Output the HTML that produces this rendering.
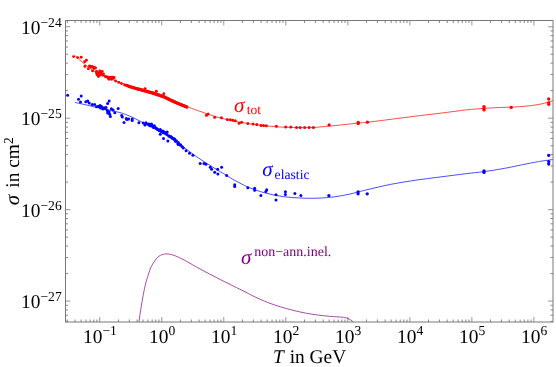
<!DOCTYPE html>
<html><head><meta charset="utf-8"><title>cross sections</title>
<style>
html,body{margin:0;padding:0;background:#fff;}
body{width:556px;height:367px;overflow:hidden;font-family:"Liberation Serif",serif;}
svg{display:block;will-change:transform;} text{text-rendering:geometricPrecision;}
</style></head><body>
<svg width="556" height="367" viewBox="0 0 556 367">
<rect x="0" y="0" width="556" height="367" fill="#fff"/>
<defs><clipPath id="c"><rect x="65.5" y="20.5" width="487.5" height="301.5"/></clipPath></defs>
<path d="M67.32 322.00v-2.50M67.32 20.50v2.50M75.07 322.00v-2.50M75.07 20.50v2.50M81.08 322.00v-2.50M81.08 20.50v2.50M85.99 322.00v-2.50M85.99 20.50v2.50M90.14 322.00v-2.50M90.14 20.50v2.50M93.74 322.00v-2.50M93.74 20.50v2.50M96.91 322.00v-2.50M96.91 20.50v2.50M118.42 322.00v-2.50M118.42 20.50v2.50M129.34 322.00v-2.50M129.34 20.50v2.50M137.09 322.00v-2.50M137.09 20.50v2.50M143.10 322.00v-2.50M143.10 20.50v2.50M148.01 322.00v-2.50M148.01 20.50v2.50M152.16 322.00v-2.50M152.16 20.50v2.50M155.76 322.00v-2.50M155.76 20.50v2.50M158.93 322.00v-2.50M158.93 20.50v2.50M180.44 322.00v-2.50M180.44 20.50v2.50M191.36 322.00v-2.50M191.36 20.50v2.50M199.11 322.00v-2.50M199.11 20.50v2.50M205.12 322.00v-2.50M205.12 20.50v2.50M210.03 322.00v-2.50M210.03 20.50v2.50M214.18 322.00v-2.50M214.18 20.50v2.50M217.78 322.00v-2.50M217.78 20.50v2.50M220.95 322.00v-2.50M220.95 20.50v2.50M242.46 322.00v-2.50M242.46 20.50v2.50M253.38 322.00v-2.50M253.38 20.50v2.50M261.13 322.00v-2.50M261.13 20.50v2.50M267.14 322.00v-2.50M267.14 20.50v2.50M272.05 322.00v-2.50M272.05 20.50v2.50M276.20 322.00v-2.50M276.20 20.50v2.50M279.80 322.00v-2.50M279.80 20.50v2.50M282.97 322.00v-2.50M282.97 20.50v2.50M304.48 322.00v-2.50M304.48 20.50v2.50M315.40 322.00v-2.50M315.40 20.50v2.50M323.15 322.00v-2.50M323.15 20.50v2.50M329.16 322.00v-2.50M329.16 20.50v2.50M334.07 322.00v-2.50M334.07 20.50v2.50M338.22 322.00v-2.50M338.22 20.50v2.50M341.82 322.00v-2.50M341.82 20.50v2.50M344.99 322.00v-2.50M344.99 20.50v2.50M366.50 322.00v-2.50M366.50 20.50v2.50M377.42 322.00v-2.50M377.42 20.50v2.50M385.17 322.00v-2.50M385.17 20.50v2.50M391.18 322.00v-2.50M391.18 20.50v2.50M396.09 322.00v-2.50M396.09 20.50v2.50M400.24 322.00v-2.50M400.24 20.50v2.50M403.84 322.00v-2.50M403.84 20.50v2.50M407.01 322.00v-2.50M407.01 20.50v2.50M428.52 322.00v-2.50M428.52 20.50v2.50M439.44 322.00v-2.50M439.44 20.50v2.50M447.19 322.00v-2.50M447.19 20.50v2.50M453.20 322.00v-2.50M453.20 20.50v2.50M458.11 322.00v-2.50M458.11 20.50v2.50M462.26 322.00v-2.50M462.26 20.50v2.50M465.86 322.00v-2.50M465.86 20.50v2.50M469.03 322.00v-2.50M469.03 20.50v2.50M490.54 322.00v-2.50M490.54 20.50v2.50M501.46 322.00v-2.50M501.46 20.50v2.50M509.21 322.00v-2.50M509.21 20.50v2.50M515.22 322.00v-2.50M515.22 20.50v2.50M520.13 322.00v-2.50M520.13 20.50v2.50M524.28 322.00v-2.50M524.28 20.50v2.50M527.88 322.00v-2.50M527.88 20.50v2.50M531.05 322.00v-2.50M531.05 20.50v2.50M65.50 321.39h2.50M553.00 321.39h-2.50M65.50 315.27h2.50M553.00 315.27h-2.50M65.50 309.96h2.50M553.00 309.96h-2.50M65.50 305.28h2.50M553.00 305.28h-2.50M65.50 273.57h2.50M553.00 273.57h-2.50M65.50 257.47h2.50M553.00 257.47h-2.50M65.50 246.04h2.50M553.00 246.04h-2.50M65.50 237.18h2.50M553.00 237.18h-2.50M65.50 229.94h2.50M553.00 229.94h-2.50M65.50 223.82h2.50M553.00 223.82h-2.50M65.50 218.51h2.50M553.00 218.51h-2.50M65.50 213.83h2.50M553.00 213.83h-2.50M65.50 182.12h2.50M553.00 182.12h-2.50M65.50 166.02h2.50M553.00 166.02h-2.50M65.50 154.59h2.50M553.00 154.59h-2.50M65.50 145.73h2.50M553.00 145.73h-2.50M65.50 138.49h2.50M553.00 138.49h-2.50M65.50 132.37h2.50M553.00 132.37h-2.50M65.50 127.06h2.50M553.00 127.06h-2.50M65.50 122.38h2.50M553.00 122.38h-2.50M65.50 90.67h2.50M553.00 90.67h-2.50M65.50 74.57h2.50M553.00 74.57h-2.50M65.50 63.14h2.50M553.00 63.14h-2.50M65.50 54.28h2.50M553.00 54.28h-2.50M65.50 47.04h2.50M553.00 47.04h-2.50M65.50 40.92h2.50M553.00 40.92h-2.50M65.50 35.61h2.50M553.00 35.61h-2.50M65.50 30.93h2.50M553.00 30.93h-2.50" stroke="#707070" stroke-width="0.85" fill="none"/>
<path d="M99.75 322.00v-4.90M99.75 20.50v4.90M161.77 322.00v-4.90M161.77 20.50v4.90M223.79 322.00v-4.90M223.79 20.50v4.90M285.81 322.00v-4.90M285.81 20.50v4.90M347.83 322.00v-4.90M347.83 20.50v4.90M409.85 322.00v-4.90M409.85 20.50v4.90M471.87 322.00v-4.90M471.87 20.50v4.90M533.89 322.00v-4.90M533.89 20.50v4.90M65.50 301.10h4.90M553.00 301.10h-4.90M65.50 209.65h4.90M553.00 209.65h-4.90M65.50 118.20h4.90M553.00 118.20h-4.90M65.50 26.75h4.90M553.00 26.75h-4.90" stroke="#787878" stroke-width="0.8" fill="none"/>
<g clip-path="url(#c)">
<path d="M138.90 322.00C139.12 320.52 139.78 315.85 140.20 313.10C140.62 310.35 140.98 308.02 141.40 305.50C141.82 302.98 142.28 300.33 142.70 298.00C143.12 295.67 143.48 293.60 143.90 291.50C144.32 289.40 144.78 287.18 145.20 285.40C145.62 283.62 145.98 282.27 146.40 280.80C146.82 279.33 147.07 278.57 147.70 276.60C148.33 274.63 149.37 271.10 150.20 269.00C151.03 266.90 151.85 265.47 152.70 264.00C153.55 262.53 154.45 261.33 155.30 260.20C156.15 259.07 156.97 258.00 157.80 257.20C158.63 256.40 159.47 255.87 160.30 255.40C161.13 254.93 161.75 254.65 162.80 254.40C163.85 254.15 165.33 253.90 166.60 253.90C167.87 253.90 168.93 254.07 170.40 254.40C171.87 254.73 173.30 255.07 175.40 255.90C177.50 256.73 179.63 257.63 183.00 259.40C186.37 261.17 191.40 264.18 195.60 266.50C199.80 268.82 204.00 271.08 208.20 273.30C212.40 275.52 216.60 277.67 220.80 279.80C225.00 281.93 229.22 284.03 233.40 286.10C237.58 288.17 242.27 290.38 245.90 292.20C249.53 294.02 251.55 295.28 255.20 297.00C258.85 298.72 263.60 300.87 267.80 302.50C272.00 304.13 276.20 305.50 280.40 306.80C284.60 308.10 288.80 309.25 293.00 310.30C297.20 311.35 301.40 312.30 305.60 313.10C309.80 313.90 314.00 314.55 318.20 315.10C322.40 315.65 327.03 316.07 330.80 316.40C334.57 316.73 338.43 316.90 340.80 317.10C343.17 317.30 343.88 317.40 345.00 317.60C346.12 317.80 346.52 317.88 347.50 318.30C348.48 318.72 349.92 319.48 350.90 320.10C351.88 320.72 352.98 321.68 353.40 322.00" stroke="#800080" stroke-width="0.7" fill="none"/>
<path d="M74.90 102.40C76.25 102.70 80.23 103.57 83.00 104.20C85.77 104.83 88.67 105.55 91.50 106.20C94.33 106.85 96.85 107.40 100.00 108.10C103.15 108.80 107.07 109.65 110.40 110.40C113.73 111.15 117.40 111.90 120.00 112.60C122.60 113.30 123.90 113.80 126.00 114.60C128.10 115.40 130.43 116.40 132.60 117.40C134.77 118.40 136.90 119.53 139.00 120.60C141.10 121.67 143.12 122.73 145.20 123.80C147.28 124.87 149.40 125.90 151.50 127.00C153.60 128.10 155.72 129.25 157.80 130.40C159.88 131.55 161.90 132.73 164.00 133.90C166.10 135.07 168.40 136.17 170.40 137.40C172.40 138.63 173.97 139.83 176.00 141.30C178.03 142.77 180.43 144.55 182.60 146.20C184.77 147.85 186.90 149.60 189.00 151.20C191.10 152.80 193.12 154.33 195.20 155.80C197.28 157.27 199.40 158.63 201.50 160.00C203.60 161.37 205.72 162.68 207.80 164.00C209.88 165.32 211.90 166.60 214.00 167.90C216.10 169.20 218.28 170.53 220.40 171.80C222.52 173.07 224.23 174.03 226.70 175.50C229.17 176.97 231.68 178.68 235.20 180.60C238.72 182.52 243.60 185.17 247.80 187.00C252.00 188.83 256.20 190.30 260.40 191.60C264.60 192.90 268.80 193.92 273.00 194.80C277.20 195.68 281.40 196.38 285.60 196.90C289.80 197.42 294.00 197.67 298.20 197.90C302.40 198.13 306.60 198.30 310.80 198.30C315.00 198.30 319.20 198.18 323.40 197.90C327.60 197.62 331.57 197.25 336.00 196.60C340.43 195.95 345.13 195.07 350.00 194.00C354.87 192.93 358.47 191.80 365.20 190.20C371.93 188.60 382.00 186.07 390.40 184.40C398.80 182.73 407.20 181.45 415.60 180.20C424.00 178.95 432.42 177.98 440.80 176.90C449.18 175.82 458.70 174.58 465.90 173.70C473.10 172.82 477.62 172.48 484.00 171.60C490.38 170.72 496.65 169.78 504.20 168.40C511.75 167.02 523.17 164.50 529.30 163.30C535.43 162.10 537.05 161.83 541.00 161.20C544.95 160.57 551.00 159.78 553.00 159.50" stroke="#0000ff" stroke-width="0.7" fill="none"/>
<path d="M75.10 55.70C75.92 56.45 78.32 58.72 80.00 60.20C81.68 61.68 83.53 63.25 85.20 64.60C86.87 65.95 88.37 67.13 90.00 68.30C91.63 69.47 93.33 70.62 95.00 71.60C96.67 72.58 98.33 73.40 100.00 74.20C101.67 75.00 103.27 75.67 105.00 76.40C106.73 77.13 108.57 77.85 110.40 78.60C112.23 79.35 113.90 80.07 116.00 80.90C118.10 81.73 120.67 82.72 123.00 83.60C125.33 84.48 127.67 85.42 130.00 86.20C132.33 86.98 134.48 87.60 137.00 88.30C139.52 89.00 142.60 89.72 145.10 90.40C147.60 91.08 149.85 91.75 152.00 92.40C154.15 93.05 156.00 93.63 158.00 94.30C160.00 94.97 162.00 95.57 164.00 96.40C166.00 97.23 168.00 98.35 170.00 99.30C172.00 100.25 174.00 101.22 176.00 102.10C178.00 102.98 180.00 103.78 182.00 104.60C184.00 105.42 185.83 106.17 188.00 107.00C190.17 107.83 193.00 108.88 195.00 109.60C197.00 110.32 198.10 110.63 200.00 111.30C201.90 111.97 203.87 112.73 206.40 113.60C208.93 114.47 211.63 115.47 215.20 116.50C218.77 117.53 223.60 118.83 227.80 119.80C232.00 120.77 236.20 121.55 240.40 122.30C244.60 123.05 248.80 123.72 253.00 124.30C257.20 124.88 261.40 125.37 265.60 125.80C269.80 126.23 274.00 126.63 278.20 126.90C282.40 127.17 286.60 127.28 290.80 127.40C295.00 127.52 299.20 127.62 303.40 127.60C307.60 127.58 311.57 127.57 316.00 127.30C320.43 127.03 325.13 126.47 330.00 126.00C334.87 125.53 340.53 124.98 345.20 124.50C349.87 124.02 353.80 123.53 358.00 123.10C362.20 122.67 364.13 122.63 370.40 121.90C376.67 121.17 387.20 119.77 395.60 118.70C404.00 117.63 413.20 116.43 420.80 115.50C428.40 114.57 433.60 114.03 441.20 113.10C448.80 112.17 459.27 110.68 466.40 109.90C473.53 109.12 478.73 108.78 484.00 108.40C489.27 108.02 493.38 107.82 498.00 107.60C502.62 107.38 507.70 107.28 511.70 107.10C515.70 106.92 519.07 106.72 522.00 106.50C524.93 106.28 526.97 106.07 529.30 105.80C531.63 105.53 533.90 105.23 536.00 104.90C538.10 104.57 539.90 104.25 541.90 103.80C543.90 103.35 546.15 102.75 548.00 102.20C549.85 101.65 552.17 100.78 553.00 100.50" stroke="#ff0000" stroke-width="0.7" fill="none"/>
</g>
<g fill="#0000ff"><circle cx="67.6" cy="95.2" r="1.50"/><circle cx="81.2" cy="96.1" r="1.50"/><circle cx="78.5" cy="99.2" r="1.50"/><circle cx="80.5" cy="102.1" r="1.50"/><circle cx="85.8" cy="101.7" r="1.50"/><circle cx="87.7" cy="100.9" r="1.50"/><circle cx="89.2" cy="103.0" r="1.50"/><circle cx="92.1" cy="104.6" r="1.50"/><circle cx="94.6" cy="104.6" r="1.50"/><circle cx="96.5" cy="106.8" r="1.50"/><circle cx="98.4" cy="106.2" r="1.50"/><circle cx="100.1" cy="105.5" r="1.50"/><circle cx="100.6" cy="108.0" r="1.50"/><circle cx="102.8" cy="108.9" r="1.50"/><circle cx="104.1" cy="107.7" r="1.50"/><circle cx="106.0" cy="107.4" r="1.50"/><circle cx="107.2" cy="110.6" r="1.50"/><circle cx="107.6" cy="113.1" r="1.50"/><circle cx="109.1" cy="111.8" r="1.50"/><circle cx="109.7" cy="114.3" r="1.50"/><circle cx="110.4" cy="116.6" r="1.50"/><circle cx="107.6" cy="103.6" r="1.50"/><circle cx="109.1" cy="100.9" r="1.50"/><circle cx="111.4" cy="108.7" r="1.50"/><circle cx="113.1" cy="109.9" r="1.50"/><circle cx="114.8" cy="112.7" r="1.50"/><circle cx="118.2" cy="108.4" r="1.50"/><circle cx="121.7" cy="115.6" r="1.50"/><circle cx="122.3" cy="116.9" r="1.50"/><circle cx="124.0" cy="122.5" r="1.50"/><circle cx="126.8" cy="119.4" r="1.50"/><circle cx="128.6" cy="119.0" r="1.50"/><circle cx="126.3" cy="118.6" r="1.50"/><circle cx="132.2" cy="118.9" r="1.50"/><circle cx="132.2" cy="120.4" r="1.50"/><circle cx="138.9" cy="122.7" r="1.50"/><circle cx="143.3" cy="123.0" r="1.50"/><circle cx="144.9" cy="124.9" r="1.50"/><circle cx="149.0" cy="123.9" r="1.50"/><circle cx="151.5" cy="123.9" r="1.50"/><circle cx="152.5" cy="125.8" r="1.50"/><circle cx="154.3" cy="125.8" r="1.50"/><circle cx="155.3" cy="127.7" r="1.50"/><circle cx="157.2" cy="129.0" r="1.50"/><circle cx="160.3" cy="129.6" r="1.50"/><circle cx="162.8" cy="130.9" r="1.50"/><circle cx="167.2" cy="132.1" r="1.50"/><circle cx="160.3" cy="134.3" r="1.50"/><circle cx="163.5" cy="138.4" r="1.50"/><circle cx="167.9" cy="140.9" r="1.50"/><circle cx="169.1" cy="135.9" r="1.50"/><circle cx="171.6" cy="137.2" r="1.50"/><circle cx="174.2" cy="139.0" r="1.50"/><circle cx="175.4" cy="140.9" r="1.50"/><circle cx="177.9" cy="143.5" r="1.50"/><circle cx="180.5" cy="144.7" r="1.50"/><circle cx="150.2" cy="125.0" r="1.50"/><circle cx="153.4" cy="127.0" r="1.50"/><circle cx="156.4" cy="128.4" r="1.50"/><circle cx="158.8" cy="129.9" r="1.50"/><circle cx="161.6" cy="131.2" r="1.50"/><circle cx="164.4" cy="132.0" r="1.50"/><circle cx="165.8" cy="133.2" r="1.50"/><circle cx="170.6" cy="136.9" r="1.50"/><circle cx="172.5" cy="138.2" r="1.50"/><circle cx="174.4" cy="139.4" r="1.50"/><circle cx="175.7" cy="141.3" r="1.50"/><circle cx="178.2" cy="144.5" r="1.50"/><circle cx="180.1" cy="145.1" r="1.50"/><circle cx="182.0" cy="146.4" r="1.50"/><circle cx="183.2" cy="147.9" r="1.50"/><circle cx="186.1" cy="150.8" r="1.50"/><circle cx="189.5" cy="153.3" r="1.50"/><circle cx="192.9" cy="155.2" r="1.50"/><circle cx="200.2" cy="163.4" r="1.50"/><circle cx="204.0" cy="163.4" r="1.50"/><circle cx="205.9" cy="164.3" r="1.50"/><circle cx="210.3" cy="167.2" r="1.50"/><circle cx="211.6" cy="169.3" r="1.50"/><circle cx="214.7" cy="172.2" r="1.50"/><circle cx="217.9" cy="174.1" r="1.50"/><circle cx="217.6" cy="169.3" r="1.50"/><circle cx="221.6" cy="167.2" r="1.50"/><circle cx="226.7" cy="175.6" r="1.50"/><circle cx="234.7" cy="184.8" r="1.50"/><circle cx="234.7" cy="186.5" r="1.50"/><circle cx="247.8" cy="187.8" r="1.50"/><circle cx="254.6" cy="188.3" r="1.50"/><circle cx="254.6" cy="190.3" r="1.50"/><circle cx="260.9" cy="195.6" r="1.50"/><circle cx="265.9" cy="191.6" r="1.50"/><circle cx="266.7" cy="189.8" r="1.50"/><circle cx="276.0" cy="194.8" r="1.50"/><circle cx="276.0" cy="199.9" r="1.50"/><circle cx="285.4" cy="191.8" r="1.50"/><circle cx="285.4" cy="194.6" r="1.50"/><circle cx="294.9" cy="193.6" r="1.50"/><circle cx="300.9" cy="195.6" r="1.50"/><circle cx="328.9" cy="195.6" r="1.65"/><circle cx="358.1" cy="191.8" r="1.65"/><circle cx="358.1" cy="193.8" r="1.65"/><circle cx="367.2" cy="193.8" r="1.65"/><circle cx="484.0" cy="170.9" r="1.65"/><circle cx="484.0" cy="172.4" r="1.65"/><circle cx="548.7" cy="155.3" r="1.65"/><circle cx="548.7" cy="161.6" r="1.65"/><circle cx="548.7" cy="164.1" r="1.65"/><circle cx="146.0" cy="122.8" r="1.50"/><circle cx="147.9" cy="124.3" r="1.50"/><circle cx="149.8" cy="125.7" r="1.50"/><circle cx="151.7" cy="126.0" r="1.50"/><circle cx="153.6" cy="127.5" r="1.50"/><circle cx="155.5" cy="127.8" r="1.50"/><circle cx="157.4" cy="129.3" r="1.50"/><circle cx="159.3" cy="130.8" r="1.50"/><circle cx="161.2" cy="131.2" r="1.50"/><circle cx="163.1" cy="132.7" r="1.50"/><circle cx="165.0" cy="133.0" r="1.50"/><circle cx="166.9" cy="134.6" r="1.50"/><circle cx="168.8" cy="136.1" r="1.50"/><circle cx="170.7" cy="136.5" r="1.50"/><circle cx="172.6" cy="138.3" r="1.50"/><circle cx="174.5" cy="138.9" r="1.50"/><circle cx="176.4" cy="140.7" r="1.50"/><circle cx="178.3" cy="142.6" r="1.50"/><circle cx="99.2" cy="106.8" r="1.50"/><circle cx="101.5" cy="106.6" r="1.50"/><circle cx="103.4" cy="108.2" r="1.50"/><circle cx="105.0" cy="108.6" r="1.50"/></g>
<g fill="#ff0000"><circle cx="73.6" cy="56.6" r="1.45"/><circle cx="77.6" cy="57.6" r="1.45"/><circle cx="81.2" cy="57.3" r="1.45"/><circle cx="86.4" cy="60.2" r="1.45"/><circle cx="84.6" cy="61.7" r="1.45"/><circle cx="84.9" cy="66.4" r="1.45"/><circle cx="88.3" cy="68.7" r="1.45"/><circle cx="90.2" cy="66.4" r="1.45"/><circle cx="93.4" cy="67.1" r="1.45"/><circle cx="94.6" cy="67.7" r="1.45"/><circle cx="92.5" cy="70.9" r="1.45"/><circle cx="96.5" cy="73.0" r="1.45"/><circle cx="99.7" cy="70.9" r="1.45"/><circle cx="102.2" cy="71.5" r="1.45"/><circle cx="98.4" cy="76.5" r="1.45"/><circle cx="100.3" cy="74.0" r="1.45"/><circle cx="102.8" cy="75.3" r="1.45"/><circle cx="105.3" cy="76.5" r="1.45"/><circle cx="108.5" cy="77.2" r="1.45"/><circle cx="111.6" cy="77.2" r="1.45"/><circle cx="114.2" cy="77.8" r="1.45"/><circle cx="111.6" cy="79.3" r="1.45"/><circle cx="115.6" cy="81.0" r="1.45"/><circle cx="118.8" cy="82.4" r="1.45"/><circle cx="121.5" cy="83.6" r="1.45"/><circle cx="124.6" cy="84.9" r="1.45"/><circle cx="145.1" cy="88.6" r="1.45"/><circle cx="156.4" cy="91.2" r="1.45"/><circle cx="163.8" cy="93.7" r="1.45"/><circle cx="206.4" cy="115.3" r="1.50"/><circle cx="208.1" cy="114.0" r="1.50"/><circle cx="214.7" cy="117.3" r="1.50"/><circle cx="221.5" cy="117.8" r="1.50"/><circle cx="227.3" cy="119.5" r="1.50"/><circle cx="230.3" cy="119.8" r="1.50"/><circle cx="232.8" cy="120.3" r="1.50"/><circle cx="235.3" cy="120.8" r="1.50"/><circle cx="239.1" cy="123.3" r="1.50"/><circle cx="241.6" cy="122.3" r="1.50"/><circle cx="247.9" cy="123.6" r="1.50"/><circle cx="253.0" cy="124.1" r="1.50"/><circle cx="256.8" cy="124.6" r="1.50"/><circle cx="261.0" cy="125.6" r="1.50"/><circle cx="263.6" cy="125.6" r="1.50"/><circle cx="266.3" cy="125.8" r="1.50"/><circle cx="276.4" cy="126.3" r="1.50"/><circle cx="285.7" cy="127.1" r="1.50"/><circle cx="290.8" cy="127.1" r="1.50"/><circle cx="296.5" cy="127.6" r="1.50"/><circle cx="300.1" cy="127.6" r="1.50"/><circle cx="304.6" cy="127.6" r="1.50"/><circle cx="309.1" cy="127.6" r="1.50"/><circle cx="313.4" cy="127.6" r="1.50"/><circle cx="329.1" cy="124.9" r="1.65"/><circle cx="358.3" cy="122.4" r="1.65"/><circle cx="358.3" cy="123.6" r="1.65"/><circle cx="367.4" cy="122.2" r="1.65"/><circle cx="484.0" cy="106.6" r="1.65"/><circle cx="484.0" cy="108.4" r="1.65"/><circle cx="484.0" cy="109.9" r="1.65"/><circle cx="511.2" cy="107.4" r="1.65"/><circle cx="548.7" cy="99.0" r="1.65"/><circle cx="548.7" cy="102.8" r="1.65"/><circle cx="548.7" cy="104.3" r="1.65"/><circle cx="96.5" cy="71.5" r="1.45"/><circle cx="97.8" cy="72.8" r="1.45"/><circle cx="99.0" cy="73.2" r="1.45"/><circle cx="100.9" cy="72.5" r="1.45"/><circle cx="101.5" cy="74.5" r="1.45"/><circle cx="99.5" cy="75.3" r="1.45"/><circle cx="103.5" cy="74.0" r="1.45"/><circle cx="97.0" cy="74.8" r="1.45"/><circle cx="106.5" cy="76.8" r="1.45"/><circle cx="107.8" cy="77.8" r="1.45"/><circle cx="109.5" cy="78.2" r="1.45"/><circle cx="110.5" cy="77.5" r="1.45"/><circle cx="112.5" cy="78.5" r="1.45"/><circle cx="113.3" cy="77.2" r="1.45"/><circle cx="109.0" cy="79.2" r="1.45"/><circle cx="89.5" cy="66.0" r="1.45"/><circle cx="91.0" cy="67.0" r="1.45"/><circle cx="92.0" cy="66.5" r="1.45"/><circle cx="93.8" cy="68.5" r="1.45"/><circle cx="95.5" cy="68.0" r="1.45"/><circle cx="126.0" cy="85.2" r="1.45"/><circle cx="126.8" cy="85.5" r="1.47"/><circle cx="127.6" cy="85.8" r="1.49"/><circle cx="128.4" cy="86.1" r="1.51"/><circle cx="129.2" cy="86.4" r="1.53"/><circle cx="130.0" cy="86.7" r="1.55"/><circle cx="130.8" cy="86.9" r="1.57"/><circle cx="131.6" cy="87.1" r="1.59"/><circle cx="132.4" cy="87.4" r="1.61"/><circle cx="133.2" cy="87.6" r="1.63"/><circle cx="134.0" cy="87.9" r="1.65"/><circle cx="134.8" cy="88.1" r="1.65"/><circle cx="135.6" cy="88.3" r="1.65"/><circle cx="136.4" cy="88.6" r="1.65"/><circle cx="137.2" cy="88.8" r="1.65"/><circle cx="138.0" cy="89.0" r="1.65"/><circle cx="138.8" cy="89.2" r="1.65"/><circle cx="139.6" cy="89.4" r="1.65"/><circle cx="140.4" cy="89.6" r="1.65"/><circle cx="141.2" cy="89.8" r="1.65"/><circle cx="142.0" cy="90.0" r="1.65"/><circle cx="142.8" cy="90.3" r="1.65"/><circle cx="143.6" cy="90.5" r="1.65"/><circle cx="144.4" cy="90.7" r="1.65"/><circle cx="145.2" cy="90.9" r="1.65"/><circle cx="146.0" cy="91.1" r="1.65"/><circle cx="146.8" cy="91.3" r="1.65"/><circle cx="147.6" cy="91.6" r="1.65"/><circle cx="148.4" cy="91.8" r="1.65"/><circle cx="149.2" cy="92.0" r="1.65"/><circle cx="150.0" cy="92.3" r="1.65"/><circle cx="150.8" cy="92.5" r="1.65"/><circle cx="151.6" cy="92.7" r="1.65"/><circle cx="152.4" cy="93.0" r="1.65"/><circle cx="153.2" cy="93.2" r="1.65"/><circle cx="154.0" cy="93.5" r="1.65"/><circle cx="154.8" cy="93.7" r="1.65"/><circle cx="155.6" cy="94.0" r="1.65"/><circle cx="156.4" cy="94.2" r="1.65"/><circle cx="157.2" cy="94.5" r="1.65"/><circle cx="158.0" cy="94.8" r="1.65"/><circle cx="158.8" cy="95.0" r="1.65"/><circle cx="159.6" cy="95.3" r="1.65"/><circle cx="160.4" cy="95.6" r="1.65"/><circle cx="161.2" cy="95.9" r="1.65"/><circle cx="162.0" cy="96.2" r="1.65"/><circle cx="162.8" cy="96.4" r="1.65"/><circle cx="163.6" cy="96.7" r="1.65"/><circle cx="164.4" cy="97.0" r="1.65"/><circle cx="165.2" cy="97.4" r="1.65"/><circle cx="166.0" cy="97.8" r="1.65"/><circle cx="166.8" cy="98.2" r="1.65"/><circle cx="167.6" cy="98.6" r="1.65"/><circle cx="168.4" cy="99.0" r="1.65"/><circle cx="169.2" cy="99.4" r="1.65"/><circle cx="170.0" cy="99.8" r="1.65"/><circle cx="170.8" cy="100.1" r="1.65"/><circle cx="171.6" cy="100.5" r="1.65"/><circle cx="172.4" cy="100.9" r="1.65"/><circle cx="173.2" cy="101.2" r="1.65"/><circle cx="174.0" cy="101.6" r="1.65"/><circle cx="174.8" cy="102.0" r="1.65"/><circle cx="175.6" cy="102.4" r="1.65"/><circle cx="176.4" cy="102.7" r="1.65"/><circle cx="177.2" cy="103.1" r="1.65"/><circle cx="178.0" cy="103.4" r="1.65"/><circle cx="178.8" cy="103.7" r="1.65"/><circle cx="179.6" cy="104.1" r="1.65"/><circle cx="180.4" cy="104.4" r="1.65"/><circle cx="181.2" cy="104.7" r="1.65"/><circle cx="182.0" cy="105.1" r="1.65"/><circle cx="182.8" cy="105.4" r="1.65"/><circle cx="183.6" cy="105.7" r="1.65"/><circle cx="184.4" cy="106.0" r="1.65"/><circle cx="185.2" cy="106.3" r="1.65"/><circle cx="186.0" cy="106.7" r="1.65"/><circle cx="186.8" cy="107.0" r="1.65"/></g>
<rect x="65.5" y="20.5" width="487.5" height="301.5" fill="none" stroke="#787878" stroke-width="1"/>
<g font-family="'Liberation Serif', serif" fill="#000" opacity="0.999">
<text x="61.7" y="33.8" font-size="19.4" text-anchor="end">10<tspan font-size="13.6" dy="-6.8">−24</tspan></text>
<text x="61.7" y="125.2" font-size="19.4" text-anchor="end">10<tspan font-size="13.6" dy="-6.8">−25</tspan></text>
<text x="61.7" y="216.7" font-size="19.4" text-anchor="end">10<tspan font-size="13.6" dy="-6.8">−26</tspan></text>
<text x="61.7" y="308.1" font-size="19.4" text-anchor="end">10<tspan font-size="13.6" dy="-6.8">−27</tspan></text>
<text x="100.0" y="342.7" font-size="19.4" text-anchor="middle">10<tspan font-size="13.6" dy="-7.4">−1</tspan></text>
<text x="162.1" y="342.7" font-size="19.4" text-anchor="middle">10<tspan font-size="13.6" dy="-7.4">0</tspan></text>
<text x="224.1" y="342.7" font-size="19.4" text-anchor="middle">10<tspan font-size="13.6" dy="-7.4">1</tspan></text>
<text x="286.1" y="342.7" font-size="19.4" text-anchor="middle">10<tspan font-size="13.6" dy="-7.4">2</tspan></text>
<text x="348.1" y="342.7" font-size="19.4" text-anchor="middle">10<tspan font-size="13.6" dy="-7.4">3</tspan></text>
<text x="410.2" y="342.7" font-size="19.4" text-anchor="middle">10<tspan font-size="13.6" dy="-7.4">4</tspan></text>
<text x="472.2" y="342.7" font-size="19.4" text-anchor="middle">10<tspan font-size="13.6" dy="-7.4">5</tspan></text>
<text x="534.2" y="342.7" font-size="19.4" text-anchor="middle">10<tspan font-size="13.6" dy="-7.4">6</tspan></text>
<text x="272.9" y="363.2" font-size="19.4" font-style="italic">T</text>
<text x="289.7" y="363.2" font-size="19.4">in GeV</text>
<text transform="translate(19.4 205.2) rotate(-90)" font-size="21" font-style="italic" fill="#000">σ</text>
<text transform="translate(19.4 187.7) rotate(-90)" font-size="19.4">in cm<tspan font-size="13.6" dy="-6.4">2</tspan></text>
</g>
<g font-family="'Liberation Serif', serif">
<text x="234.0" y="111.6" font-size="21" font-style="italic" fill="#ff0000">σ</text>
<text x="246.8" y="114.0" font-size="13.5" fill="#ff0000">tot</text>
<text x="262.2" y="176.2" font-size="21" font-style="italic" fill="#0000ff">σ</text>
<text x="274.6" y="179.0" font-size="13.7" fill="#0000ff">elastic</text>
<text x="241.0" y="263.6" font-size="21" font-style="italic" fill="#800080">σ</text>
<text x="254.2" y="255.8" font-size="14" fill="#800080">non−ann.inel.</text>
</g>
</svg>
</body></html>
